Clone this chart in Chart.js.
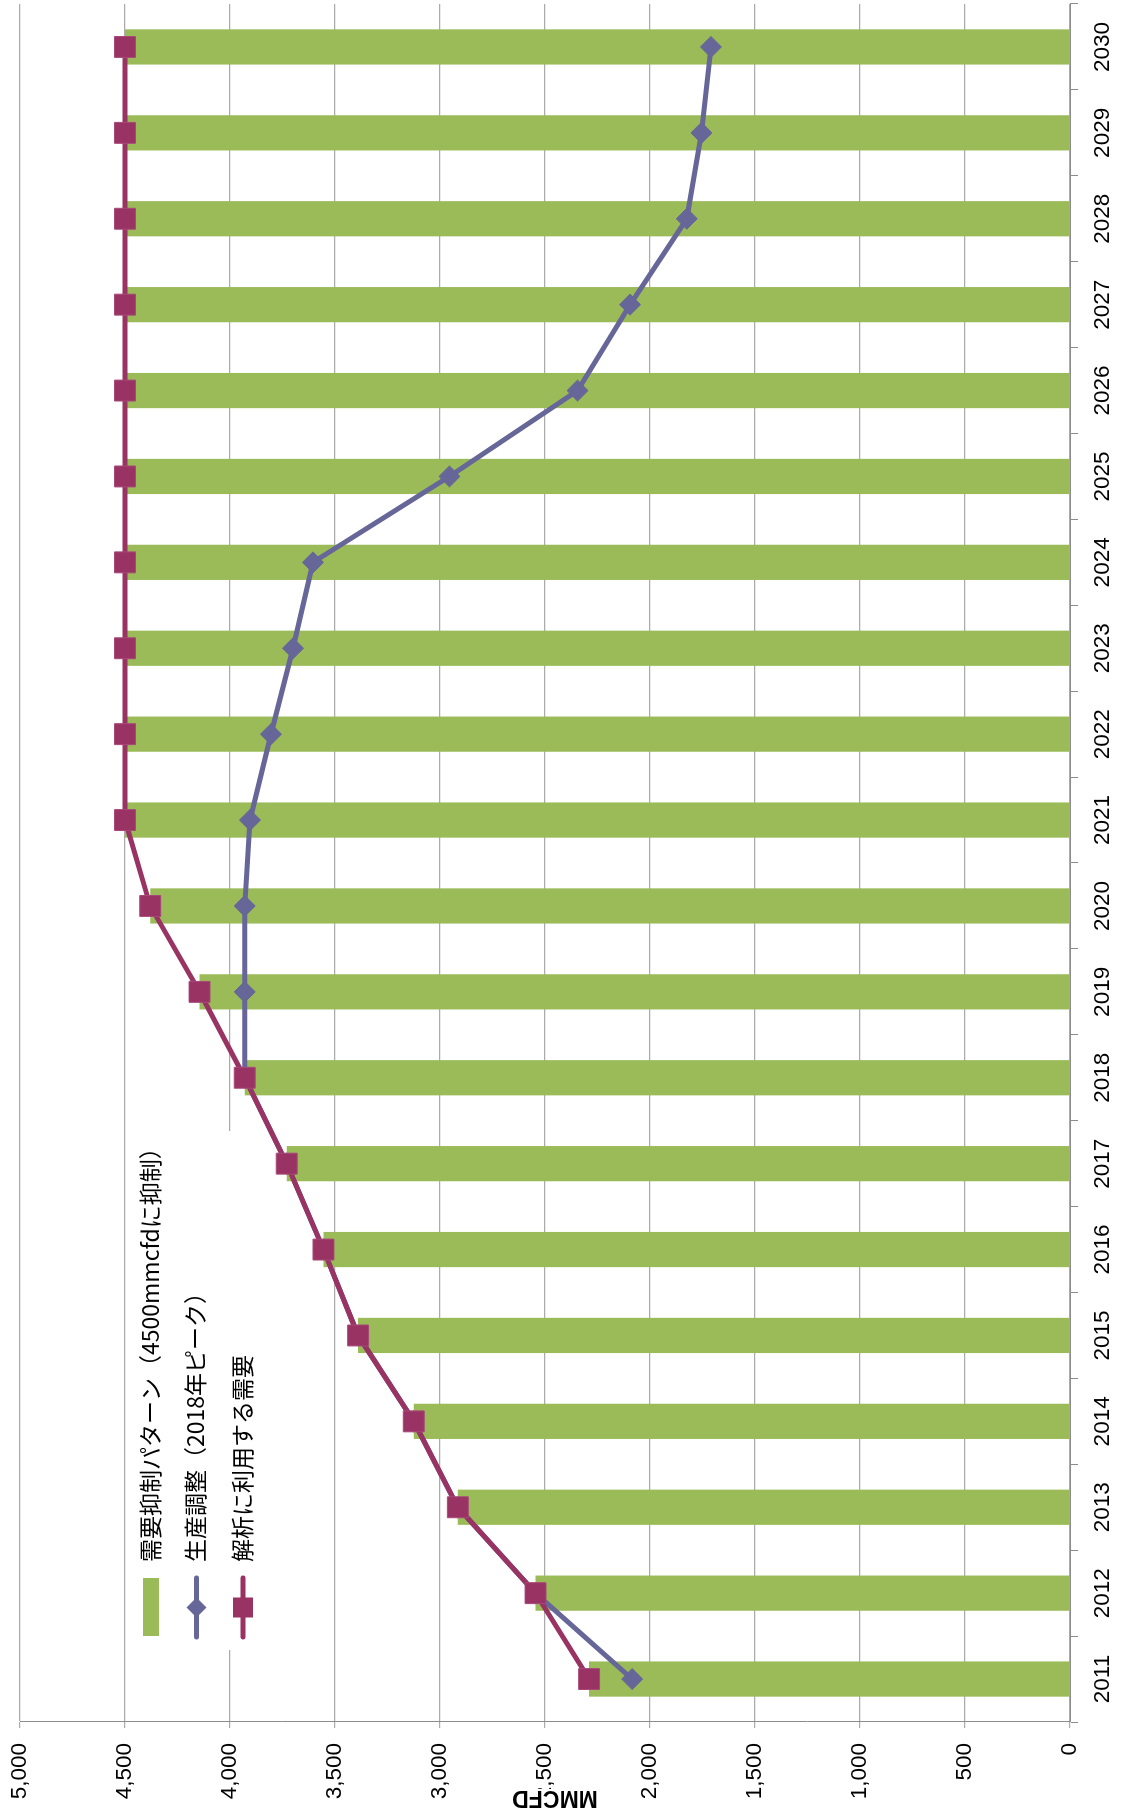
<!DOCTYPE html>
<html lang="ja">
<head>
<meta charset="utf-8">
<title>需要抑制パターンと生産調整</title>
<script src="https://cdn.jsdelivr.net/npm/chart.js@4.4.1/dist/chart.umd.min.js"></script>
<style>
  html, body { margin: 0; padding: 0; background: #fff; overflow: hidden; width: 1128px; height: 1820px; }
  /* The chart is laid out landscape and turned a quarter turn counter-clockwise onto the portrait page */
  #frame { position: absolute; left: 0; top: 0; width: 1820px; height: 1128px;
           transform-origin: 0 0; transform: translate(0px, 1820px) rotate(-90deg); background: #fff; }
  canvas { display: block; }
</style>
</head>
<body>
<div id="frame"><canvas id="chart" width="1820" height="1128"></canvas></div>
<script>
// Years on the category axis
const years = ['2011','2012','2013','2014','2015','2016','2017','2018','2019','2020',
               '2021','2022','2023','2024','2025','2026','2027','2028','2029','2030'];

// 需要抑制パターン (demand capped at 4500 mmcfd), MMCFD
const suppressedDemand = [2290, 2545, 2915, 3125, 3390, 3555, 3730, 3930, 4145, 4380,
                          4500, 4500, 4500, 4500, 4500, 4500, 4500, 4500, 4500, 4500];

// 生産調整 (production peaking in 2018), MMCFD
const productionAdjusted = [2085, 2545, 2915, 3125, 3390, 3555, 3730, 3930, 3930, 3930,
                            3905, 3805, 3700, 3605, 2955, 2345, 2095, 1825, 1755, 1710];

// 解析に利用する需要 (demand used in the analysis), MMCFD
const analysisDemand = [2290, 2545, 2915, 3125, 3390, 3555, 3730, 3930, 4145, 4380,
                        4500, 4500, 4500, 4500, 4500, 4500, 4500, 4500, 4500, 4500];

// Value axis ticks
const valueTicks = [0, 500, 1000, 1500, 2000, 2500, 3000, 3500, 4000, 4500, 5000];

const seriesNames = ['需要抑制パターン（4500mmcfdに抑制）', '生産調整（2018年ピーク）', '解析に利用する需要'];
const axisTitle = 'MMCFD';

const GREEN = '#9BBB59';
const BLUE = '#666699';
const RED = '#993363';
const GRID = '#ababab';
const AXIS = '#8c8c8c';
const TICK_FONT = { family: '"Liberation Sans", Arial, sans-serif', size: 22.5 };

// Legend panel drawn inside the plot, above the grid and below the series
const legendPanel = {
  id: 'legendPanel',
  beforeDatasetsDraw(chart) {
    const ctx = chart.ctx;
    const a = chart.chartArea;
    const box = { x: a.left + 72, y: a.top + 108, w: 519, h: 134 };
    ctx.save();
    ctx.fillStyle = '#fff';
    ctx.fillRect(box.x, box.y, box.w, box.h);
    const rows = [23, 68.5, 115];
    const symL = box.x + 13, symR = box.x + 72, symC = (symL + symR) / 2;
    ctx.font = '23px "Noto Sans CJK JP", sans-serif';
    ctx.textBaseline = 'middle';
    ctx.textAlign = 'left';
    chart.data.datasets.forEach((ds, i) => {
      const y = box.y + rows[i];
      if (ds.type === 'bar') {
        ctx.fillStyle = ds.backgroundColor;
        ctx.fillRect(symL + 1, y - 8, 58, 16);
      } else {
        ctx.strokeStyle = ds.borderColor;
        ctx.lineWidth = ds.borderWidth;
        ctx.lineCap = 'round';
        ctx.beginPath();
        ctx.moveTo(symL, y);
        ctx.lineTo(symR, y);
        ctx.stroke();
        ctx.fillStyle = ds.pointBackgroundColor;
        ctx.beginPath();
        if (ds.pointStyle === 'rectRot') {
          const r = 10;
          ctx.moveTo(symC - r, y); ctx.lineTo(symC, y - r);
          ctx.lineTo(symC + r, y); ctx.lineTo(symC, y + r);
          ctx.closePath();
        } else {
          ctx.rect(symC - 10, y - 10, 20, 20);
        }
        ctx.fill();
      }
      ctx.fillStyle = '#000';
      ctx.fillText(ds.label, box.x + 88, y - 1);
    });
    ctx.restore();
  }
};

// Value axis title, set against the tick labels
const valueTitle = {
  id: 'valueTitle',
  afterDraw(chart) {
    const ctx = chart.ctx;
    const a = chart.chartArea;
    const cy = (a.top + a.bottom) / 2 + 10;
    ctx.save();
    ctx.translate(22, cy);
    ctx.rotate(-Math.PI / 2);
    ctx.font = 'bold 23px "Liberation Sans", Arial, sans-serif';
    const w = ctx.measureText(axisTitle).width;
    ctx.fillStyle = '#fff';
    ctx.fillRect(-w / 2 - 1, -8, w + 2, 17);
    ctx.fillStyle = '#000';
    ctx.textAlign = 'center';
    ctx.textBaseline = 'middle';
    ctx.fillText(axisTitle, 0, 1);
    ctx.restore();
  }
};

new Chart(document.getElementById('chart'), {
  data: {
    labels: years,
    datasets: [
      {
        type: 'bar', label: seriesNames[0], data: suppressedDemand,
        backgroundColor: GREEN, borderWidth: 0,
        barPercentage: 0.41, categoryPercentage: 1, order: 3
      },
      {
        type: 'line', label: seriesNames[1], data: productionAdjusted,
        borderColor: BLUE, backgroundColor: BLUE, borderWidth: 5, tension: 0,
        pointStyle: 'rectRot', pointRadius: 10.5, pointBorderWidth: 1,
        pointBackgroundColor: BLUE, pointBorderColor: BLUE, order: 2
      },
      {
        type: 'line', label: seriesNames[2], data: analysisDemand,
        borderColor: RED, backgroundColor: RED, borderWidth: 5, tension: 0,
        pointStyle: 'rect', pointRadius: 14.8, pointBorderWidth: 1,
        pointBackgroundColor: RED, pointBorderColor: '#a8487a', order: 1
      }
    ]
  },
  options: {
    responsive: false,
    animation: false,
    devicePixelRatio: 1,
    layout: { autoPadding: false, padding: { top: 20, right: 4, left: 0, bottom: 0 } },
    plugins: { legend: { display: false }, tooltip: { enabled: false } },
    scales: {
      x: {
        type: 'category',
        offset: true,
        grid: { offset: true, drawOnChartArea: false, tickLength: 8, color: AXIS, lineWidth: 1 },
        border: { display: true, color: AXIS, width: 1 },
        ticks: { font: TICK_FONT, color: '#000', padding: 11, maxRotation: 0, minRotation: 0, autoSkip: false },
        afterFit(scale) { scale.height = 58; scale.paddingLeft = 0; scale.paddingRight = 0; }
      },
      y: {
        min: valueTicks[0],
        max: valueTicks[valueTicks.length - 1],
        afterBuildTicks(scale) { scale.ticks = valueTicks.map(v => ({ value: v })); },
        grid: { color: GRID, lineWidth: 1.2, tickLength: 6 },
        border: { display: true, color: AXIS, width: 1 },
        ticks: { font: TICK_FONT, color: '#000', padding: 15,
                 callback: v => Number(v).toLocaleString('en-US') },
        afterFit(scale) { scale.width = 98; scale.paddingTop = 0; scale.paddingBottom = 0; }
      }
    }
  },
  plugins: [legendPanel, valueTitle]
});
</script>
</body>
</html>
